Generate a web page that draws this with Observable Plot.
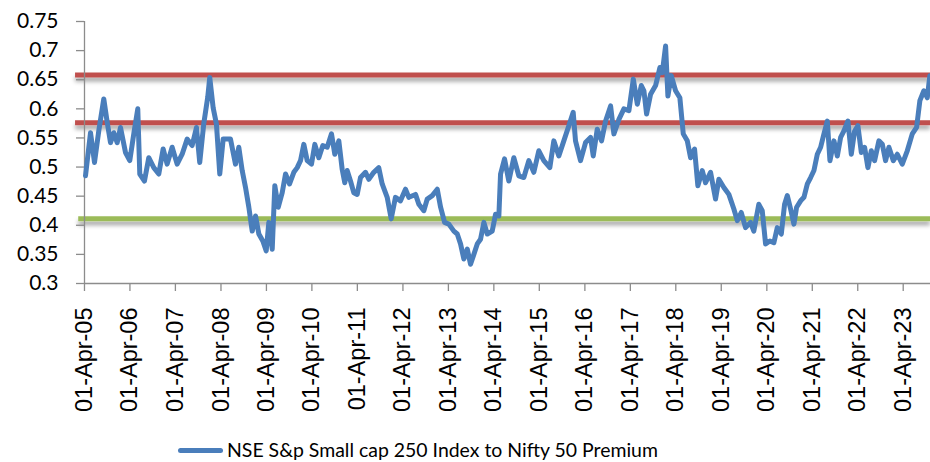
<!DOCTYPE html>
<html>
<head>
<meta charset="utf-8">
<script src="https://cdn.jsdelivr.net/npm/d3@7"></script>
<script src="https://cdn.jsdelivr.net/npm/@observablehq/plot@0.6"></script>
<style>
  html, body { margin: 0; padding: 0; background: #fff; }
  #wrap { position: relative; width: 930px; height: 462px; }
  #legend { position: absolute; left: 0; top: 437px; width: 930px; height: 26px; }
  #legend .swatch { position: absolute; left: 178px; top: 11px; width: 45px; height: 5px; border-radius: 3px; background: #4A7EBB; }
  #legend .label { position: absolute; left: 227px; top: 0px; font-family: Lato, "Open Sans", sans-serif; color: #000; white-space: nowrap; line-height: 26px; }
</style>
</head>
<body>
<div id="wrap">
  <div id="chart"></div>
  <div id="legend"><div class="swatch"></div><div class="label" id="legendLabel"></div></div>
</div>
<script>
// ---- data (decimal year, premium ratio) ----
const years = [
2005.269,2005.379,2005.467,2005.561,2005.671,2005.746,2005.819,2005.891,2005.966,2006.039,
2006.149,2006.243,2006.331,2006.419,2006.463,2006.566,2006.661,2006.771,2006.881,2006.977,
2007.065,2007.175,2007.285,2007.395,2007.505,2007.615,2007.710,2007.782,2007.870,2007.958,
2008.002,2008.077,2008.149,2008.222,2008.297,2008.457,2008.567,2008.640,2008.714,2008.787,
2008.860,2008.934,2009.007,2009.080,2009.167,2009.242,2009.299,2009.374,2009.431,2009.506,
2009.594,2009.667,2009.755,2009.849,2009.924,2009.996,2010.069,2010.144,2010.238,2010.311,
2010.399,2010.487,2010.583,2010.678,2010.751,2010.839,2010.913,2010.970,2011.023,2011.096,
2011.168,2011.243,2011.316,2011.426,2011.498,2011.608,2011.718,2011.793,2011.903,2011.991,
2012.085,2012.195,2012.305,2012.378,2012.525,2012.598,2012.707,2012.782,2012.892,2013.002,
2013.075,2013.163,2013.257,2013.367,2013.442,2013.514,2013.587,2013.662,2013.734,2013.807,
2013.882,2013.954,2014.027,2014.102,2014.211,2014.284,2014.357,2014.394,2014.482,2014.576,
2014.686,2014.796,2014.906,2015.016,2015.126,2015.236,2015.346,2015.478,2015.566,2015.676,
2015.786,2015.896,2015.992,2016.043,2016.153,2016.263,2016.373,2016.432,2016.520,2016.615,
2016.703,2016.813,2016.885,2016.995,2017.105,2017.215,2017.312,2017.400,2017.488,2017.545,
2017.604,2017.692,2017.802,2017.897,2017.949,2018.022,2018.073,2018.147,2018.242,2018.336,
2018.411,2018.499,2018.572,2018.659,2018.732,2018.829,2018.901,2019.011,2019.121,2019.194,
2019.304,2019.414,2019.524,2019.599,2019.686,2019.781,2019.891,2019.963,2020.073,2020.148,
2020.221,2020.315,2020.403,2020.478,2020.566,2020.638,2020.698,2020.770,2020.843,2020.902,
2020.990,2021.063,2021.138,2021.210,2021.283,2021.357,2021.430,2021.503,2021.577,2021.635,
2021.723,2021.797,2021.870,2021.942,2022.030,2022.105,2022.178,2022.250,2022.325,2022.397,
2022.470,2022.545,2022.617,2022.712,2022.787,2022.859,2022.932,2023.029,2023.117,2023.226,
2023.336,2023.446,2023.541,2023.613,2023.701,2023.776,2023.833
];
const premium = [
0.485,0.559,0.508,0.562,0.617,0.577,0.542,0.559,0.542,0.568,
0.525,0.511,0.557,0.600,0.488,0.476,0.516,0.499,0.488,0.531,
0.505,0.534,0.505,0.522,0.548,0.537,0.568,0.508,0.574,0.620,
0.654,0.602,0.574,0.488,0.548,0.548,0.505,0.534,0.494,0.465,
0.431,0.390,0.416,0.385,0.373,0.356,0.405,0.359,0.468,0.431,
0.456,0.488,0.471,0.491,0.499,0.511,0.539,0.511,0.505,0.539,
0.516,0.537,0.534,0.557,0.522,0.545,0.496,0.473,0.494,0.476,
0.456,0.453,0.482,0.491,0.479,0.491,0.499,0.471,0.448,0.411,
0.448,0.442,0.462,0.448,0.453,0.436,0.425,0.445,0.451,0.462,
0.431,0.405,0.402,0.390,0.385,0.368,0.342,0.359,0.333,0.350,
0.368,0.376,0.405,0.385,0.390,0.419,0.416,0.488,0.514,0.476,
0.516,0.485,0.482,0.511,0.491,0.528,0.511,0.499,0.545,0.519,
0.545,0.571,0.594,0.545,0.511,0.542,0.551,0.519,0.565,0.545,
0.579,0.605,0.557,0.582,0.600,0.597,0.651,0.608,0.640,0.631,
0.591,0.625,0.640,0.671,0.662,0.708,0.622,0.657,0.631,0.619,
0.557,0.545,0.516,0.531,0.468,0.494,0.473,0.491,0.445,0.479,
0.465,0.453,0.428,0.408,0.422,0.396,0.405,0.390,0.436,0.425,
0.368,0.373,0.370,0.396,0.385,0.436,0.451,0.428,0.402,0.431,
0.442,0.448,0.471,0.482,0.494,0.522,0.534,0.557,0.579,0.511,
0.545,0.519,0.551,0.562,0.579,0.522,0.562,0.571,0.525,0.534,
0.499,0.528,0.511,0.545,0.539,0.511,0.534,0.511,0.522,0.505,
0.528,0.557,0.568,0.614,0.631,0.619,0.657
];
// reference bands (mean -1sd, +1sd, +2sd)
const upperBands = [0.658, 0.576];
const lowerBands = [0.411];
const yTicks = [0.3, 0.35, 0.4, 0.45, 0.5, 0.55, 0.6, 0.65, 0.7, 0.75];
const xTickYears = d3.range(2005, 2024); // 01-Apr of each year
const domainStart = 2005.247;  // 01-Apr-05
const domainEnd = 2023.847;
const seriesName = "NSE S&p Small cap 250 Index to Nifty 50 Premium";

function decToDate(y) {
  const yr = Math.floor(y);
  const s = Date.UTC(yr, 0, 1), e = Date.UTC(yr + 1, 0, 1);
  return new Date(s + (y - yr) * (e - s));
}
const data = years.map((y, i) => ({date: decToDate(y), v: premium[i]}));
const xTicks = xTickYears.map(y => new Date(Date.UTC(y, 3, 1)));
const x0 = decToDate(domainStart), x1 = decToDate(domainEnd);

const axisColor = "#8c8c8c";
const plot = Plot.plot({
  width: 930,
  height: 430,
  marginTop: 21,
  marginBottom: 147,
  marginLeft: 84,
  marginRight: 0,
  style: {background: "white", overflow: "visible"},
  x: {type: "utc", domain: [x0, x1]},
  y: {domain: [0.3, 0.75]},
  marks: [
    Plot.ruleY(upperBands, {x1: decToDate(2005.05), x2: x1, stroke: "#C0504D", strokeWidth: 5, title: () => "band"}),
    Plot.ruleY(lowerBands, {x1: decToDate(2005.12), x2: x1, stroke: "#9BBB59", strokeWidth: 5, title: () => "band"}),
    Plot.ruleX([x0], {y1: 0.3, y2: 0.75, stroke: axisColor, strokeWidth: 1.3}),
    Plot.ruleY([0.3], {stroke: axisColor, strokeWidth: 1.3}),
    Plot.axisY({ticks: yTicks, tickSize: 8, tickPadding: 18, stroke: axisColor, strokeWidth: 1.3,
      tickFormat: d => String(+d.toFixed(2)), fontSize: 21, fontFamily: "Lato, sans-serif", fill: "#000", label: null}),
    Plot.axisX({ticks: xTicks, tickSize: 8, tickPadding: 16, tickRotate: -90, stroke: axisColor, strokeWidth: 1.3,
      tickFormat: d3.utcFormat("%d-%b-%y"), fontSize: 23.5, fontFamily: "Liberation Sans, Arial, sans-serif", fill: "#000", label: null}),
    Plot.line(data, {x: "date", y: "v", stroke: "#4A7EBB", strokeWidth: 5, strokeLinejoin: "round", strokeLinecap: "round"})
  ]
});

// soft shadow under the band lines
const svg = d3.select(plot);
const defs = svg.insert("defs", ":first-child");
const f = defs.append("filter").attr("id", "bandShadow")
  .attr("filterUnits", "userSpaceOnUse").attr("x", 0).attr("y", 0).attr("width", 930).attr("height", 430);
f.append("feDropShadow").attr("dx", 0).attr("dy", 4).attr("stdDeviation", 2.2).attr("flood-color", "#000").attr("flood-opacity", 0.35);
svg.selectAll('g[aria-label="rule"]').filter(function() { return this.querySelector("title"); })
  .attr("filter", "url(#bandShadow)")
  .selectAll("title").remove();
// x tick labels in an Arial-like face
svg.selectAll('g[aria-label^="x-axis tick label"], g[aria-label^="x-axis tick label"] text')
  .style("font-family", "'Liberation Sans', Arial, sans-serif")
  .style("font-size", "23.5px");

document.getElementById("chart").appendChild(plot);

// legend text sized to match
const lbl = document.getElementById("legendLabel");
lbl.textContent = seriesName;
const c = document.createElement("canvas").getContext("2d");
c.font = "20px Lato";
const w = c.measureText(seriesName).width;
lbl.style.fontSize = (20 * 432 / w).toFixed(2) + "px";
</script>
</body>
</html>
